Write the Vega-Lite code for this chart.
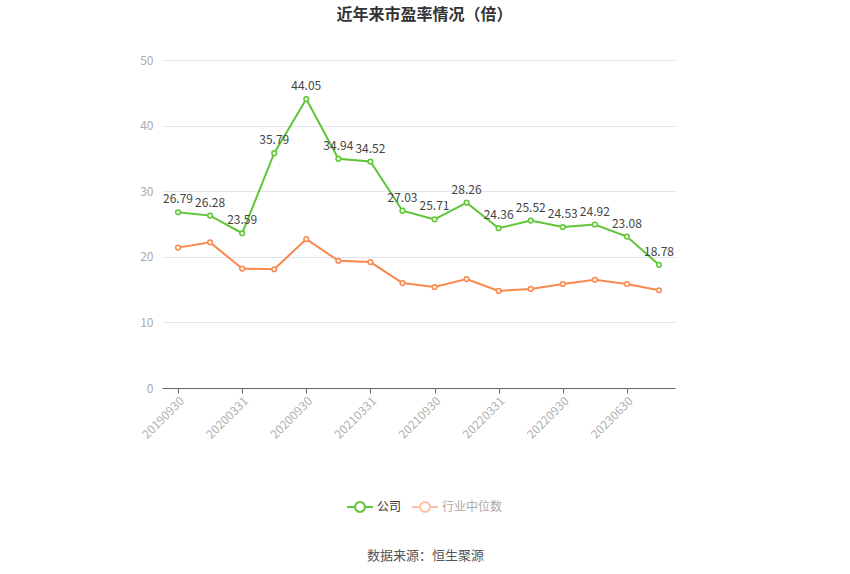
{
  "$schema": "https://vega.github.io/schema/vega-lite/v6.json",
  "width": 513,
  "height": 328,
  "autosize": "none",
  "padding": {"left": 162, "top": 60, "right": 175, "bottom": 186},
  "background": "#ffffff",
  "title": {
    "text": "近年来市盈率情况（倍）",
    "fontSize": 16,
    "fontWeight": "bold",
    "color": "#333333",
    "font": "Noto Sans CJK SC",
    "anchor": "middle",
    "dx": 6,
    "offset": 31
  },
  "data": {
    "values": [
      {"date": "20190930", "series": "公司", "pe": 26.79},
      {"date": "20191231", "series": "公司", "pe": 26.28},
      {"date": "20200331", "series": "公司", "pe": 23.59},
      {"date": "20200630", "series": "公司", "pe": 35.79},
      {"date": "20200930", "series": "公司", "pe": 44.05},
      {"date": "20201231", "series": "公司", "pe": 34.94},
      {"date": "20210331", "series": "公司", "pe": 34.52},
      {"date": "20210630", "series": "公司", "pe": 27.03},
      {"date": "20210930", "series": "公司", "pe": 25.71},
      {"date": "20211231", "series": "公司", "pe": 28.26},
      {"date": "20220331", "series": "公司", "pe": 24.36},
      {"date": "20220630", "series": "公司", "pe": 25.52},
      {"date": "20220930", "series": "公司", "pe": 24.53},
      {"date": "20221231", "series": "公司", "pe": 24.92},
      {"date": "20230630", "series": "公司", "pe": 23.08},
      {"date": "20230930", "series": "公司", "pe": 18.78},
      {"date": "20190930", "series": "行业中位数", "pe": 21.4},
      {"date": "20191231", "series": "行业中位数", "pe": 22.2},
      {"date": "20200331", "series": "行业中位数", "pe": 18.2},
      {"date": "20200630", "series": "行业中位数", "pe": 18.1},
      {"date": "20200930", "series": "行业中位数", "pe": 22.7},
      {"date": "20201231", "series": "行业中位数", "pe": 19.4},
      {"date": "20210331", "series": "行业中位数", "pe": 19.2},
      {"date": "20210630", "series": "行业中位数", "pe": 16.0},
      {"date": "20210930", "series": "行业中位数", "pe": 15.4},
      {"date": "20211231", "series": "行业中位数", "pe": 16.6},
      {"date": "20220331", "series": "行业中位数", "pe": 14.8},
      {"date": "20220630", "series": "行业中位数", "pe": 15.1},
      {"date": "20220930", "series": "行业中位数", "pe": 15.85},
      {"date": "20221231", "series": "行业中位数", "pe": 16.5},
      {"date": "20230630", "series": "行业中位数", "pe": 15.85},
      {"date": "20230930", "series": "行业中位数", "pe": 14.9}
    ]
  },
  "encoding": {
    "x": {
      "field": "date",
      "type": "ordinal",
      "sort": null,
      "scale": {"padding": 0.5},
      "axis": {
        "values": ["20190930", "20200331", "20200930", "20210331", "20210930", "20220331", "20220930", "20230630"],
        "labelAngle": -45,
        "labelColor": "#b0b0b0",
        "labelFontSize": 12,
        "labelFont": "Noto Sans CJK SC",
        "labelPadding": 2,
        "domainColor": "#666666",
        "tickColor": "#666666",
        "tickSize": 5,
        "grid": false,
        "title": "数据来源：恒生聚源",
        "titleFont": "Noto Sans CJK SC",
        "titleFontSize": 13,
        "titleFontWeight": "normal",
        "titleColor": "#555555",
        "titleBaseline": "middle",
        "titleX": 263,
        "titleY": 167
      }
    },
    "y": {
      "field": "pe",
      "type": "quantitative",
      "scale": {"domain": [0, 50]},
      "axis": {
        "values": [0, 10, 20, 30, 40, 50],
        "title": null,
        "domain": false,
        "ticks": false,
        "labelColor": "#aaaaaa",
        "labelFontSize": 12,
        "labelFont": "Noto Sans CJK SC",
        "labelPadding": 9,
        "gridColor": "#e0e6f1"
      }
    }
  },
  "layer": [
    {
      "mark": {
        "type": "line",
        "strokeWidth": 2,
        "point": {"filled": false, "fill": "#ffffff", "size": 22, "strokeWidth": 1.5}
      },
      "encoding": {
        "color": {
          "field": "series",
          "type": "nominal",
          "sort": ["公司", "行业中位数"],
          "scale": {"domain": ["公司", "行业中位数"], "range": ["#5ec534", "#f9884f"]},
          "legend": {
            "title": null,
            "orient": "none",
            "direction": "horizontal",
            "legendX": 184,
            "legendY": 433,
            "symbolType": "M-1,0L-0.38,0M0.38,0L1,0M0.38,0A0.38,0.38,0,1,1,-0.38,0A0.38,0.38,0,1,1,0.38,0",
            "symbolSize": 676,
            "symbolStrokeWidth": 2,
            "symbolFillColor": "#ffffff",
            "labelFont": "Noto Sans CJK SC",
            "labelFontSize": 12,
            "labelColor": "#333333",
            "labelOffset": 3,
            "columnPadding": 6,
            "encode": {
              "symbols": {"update": {"opacity": {"signal": "datum.value === '行业中位数' ? 0.5 : 1"}}},
              "labels": {"update": {"fill": {"signal": "datum.value === '行业中位数' ? '#aaaaaa' : '#333333'"}}}
            }
          }
        }
      }
    },
    {
      "transform": [{"filter": "datum.series === '公司'"}],
      "mark": {
        "type": "text",
        "baseline": "bottom",
        "dy": -6,
        "fontSize": 12,
        "font": "Noto Sans CJK SC",
        "color": "#444444"
      },
      "encoding": {
        "text": {"field": "pe", "type": "quantitative", "format": ".2f"}
      }
    }
  ],
  "config": {
    "view": {"stroke": null}
  }
}
